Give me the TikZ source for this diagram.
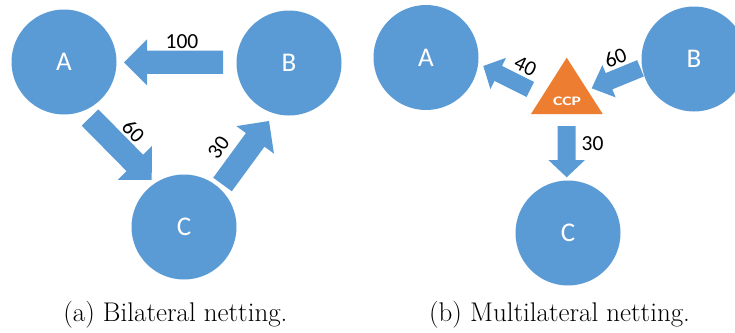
\documentclass[tikz,border=0pt]{standalone}
\usepackage{fontspec}
\usepackage{graphicx}
\newfontfamily\calibri{Carlito}
\usetikzlibrary{calc}
\definecolor{cblue}{HTML}{5B9BD5}
\definecolor{corange}{HTML}{ED7D31}
% block arrow: from, to, half shaft width, half head width, head length
\newcommand{\blockarrow}[5]{%
  \fill[cblue] ($(#1)!#3!90:(#2)$)
    -- ($($(#2)!#5!(#1)$)!#3!-90:(#1)$)
    -- ($($(#2)!#5!(#1)$)!#4!-90:(#1)$)
    -- (#2)
    -- ($($(#2)!#5!(#1)$)!#4!90:(#1)$)
    -- ($($(#2)!#5!(#1)$)!#3!90:(#1)$)
    -- ($(#1)!#3!-90:(#2)$) -- cycle;}
\begin{document}
\begin{tikzpicture}[x=1pt,y=-1pt,
  party/.style={circle,fill=cblue,minimum size=105pt,inner sep=0pt,text=white,font=\calibri\fontsize{27}{30}\selectfont},
  amount/.style={font=\calibri\fontsize{21.5}{24}\selectfont,inner sep=0pt},
  caption/.style={font=\fontsize{27}{32}\selectfont,anchor=base,inner sep=0pt}]
\useasboundingbox (0,0) rectangle (735,332);
\clip (0,0) rectangle (735,332);
% ---------- (a) bilateral ----------
\node[party] (la) at (64,62) {A};
\node[party] (lb) at (289,63) {B};
\node[party] (lc) at (184,227) {C};
\coordinate (ba0) at (223,62.3);
\coordinate (ba1) at (124,62.3);
\coordinate (ac0) at (90,117.5);
\coordinate (ac1) at (151.7,180);
\coordinate (cb0) at (222.5,184.5);
\coordinate (cb1) at (269,121);
\blockarrow{ba0}{ba1}{11.65pt}{23pt}{23pt}
\blockarrow{ac0}{ac1}{11.65pt}{24pt}{24pt}
\blockarrow{cb0}{cb1}{11.5pt}{23.3pt}{23.4pt}
\node[amount] (l100) at (182,41.7) {100};
\node[amount,rotate=-45] (l60) at (133.5,131.5) {60};
\node[amount,rotate=54] (l30) at (218.5,147.5) {30};
\node[caption] (capa) at (175.4,321.7) {(a) Bilateral netting.};
% ---------- (b) multilateral ----------
\node[party] (ra) at (426,57.5) {A};
\node[party] (rb) at (694,59) {B};
\node[party] (rc) at (568,233) {C};
\coordinate (t1) at (566.7,57.7);
\coordinate (t2) at (531,114);
\coordinate (t3) at (602.7,114);
\fill[corange] (t1) -- (t2) -- (t3) -- cycle;
\node[font=\calibri\bfseries\fontsize{13}{15}\selectfont,text=white,inner sep=0pt] (ccp) at (567,101) {\scalebox{1.35}[1]{CCP}};
\coordinate (ca0) at (530.3,89.5);
\coordinate (ca1) at (483.3,66);
\coordinate (bc0) at (640.5,68.3);
\coordinate (bc1) at (591.7,88.3);
\coordinate (cc0) at (566.7,126);
\coordinate (cc1) at (566.7,177.3);
\blockarrow{ca0}{ca1}{8.4pt}{17.5pt}{16.7pt}
\blockarrow{bc0}{bc1}{8.8pt}{17.5pt}{18.7pt}
\blockarrow{cc0}{cc1}{9pt}{18.3pt}{17.3pt}
\node[amount,rotate=-26] (r40) at (525.5,66) {40};
\node[amount,rotate=22] (r60) at (615.5,57.5) {60};
\node[amount] (r30) at (592.5,143.3) {30};
\node[caption] (capb) at (559.5,321.7) {(b) Multilateral netting.};
\end{tikzpicture}
\end{document}
